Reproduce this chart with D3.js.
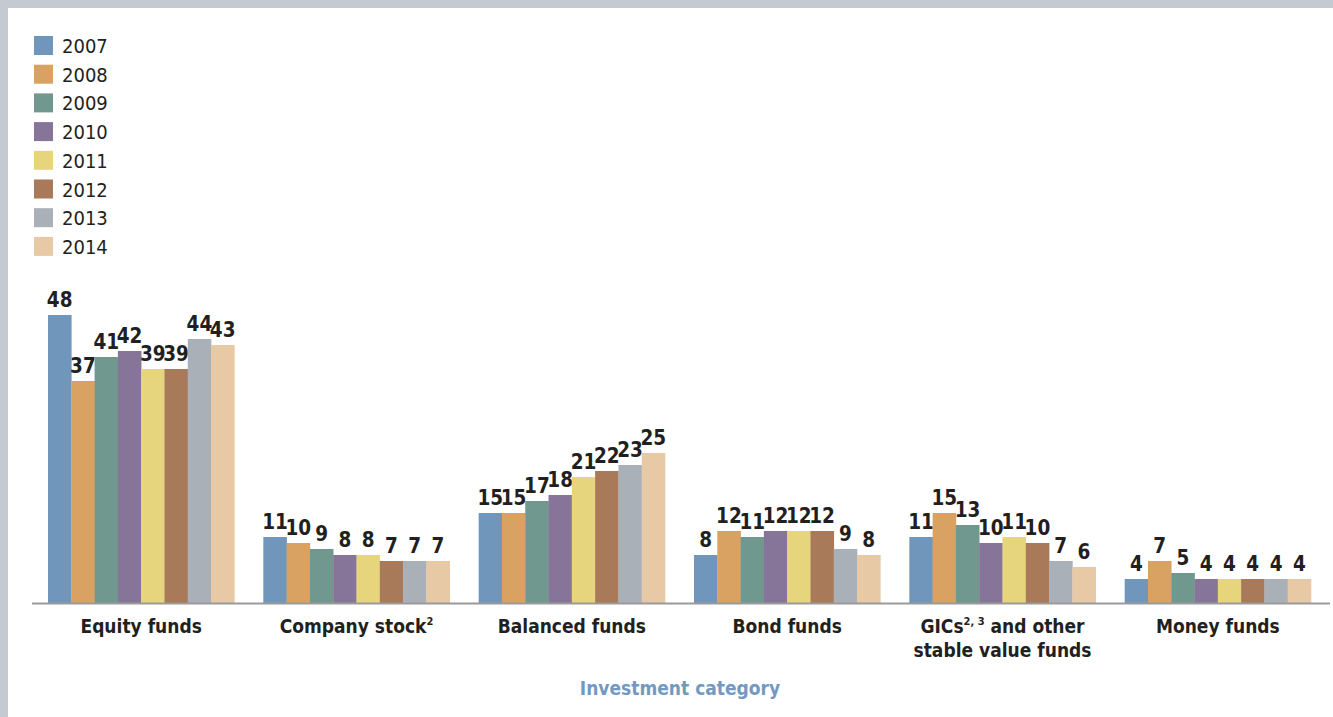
<!DOCTYPE html>
<html><head><meta charset="utf-8">
<script src="https://cdn.jsdelivr.net/npm/d3@7"></script>
<style>
html,body{margin:0;padding:0;background:#fff;}
svg{display:block;}
</style></head>
<body>
<script>
const categories = ["Equity funds","Company stock","Balanced funds","Bond funds","GICs and other stable value funds","Money funds"];
const years = ["2007","2008","2009","2010","2011","2012","2013","2014"];
const values = {
  "2007":[48,11,15,8,11,4],
  "2008":[37,10,15,12,15,7],
  "2009":[41,9,17,11,13,5],
  "2010":[42,8,18,12,10,4],
  "2011":[39,8,21,12,11,4],
  "2012":[39,7,22,12,10,4],
  "2013":[44,7,23,9,7,4],
  "2014":[43,7,25,8,6,4]
};
const colors = ["#7097bb","#d9a263","#71988e","#877599","#e6d57d","#a97a5a","#aab0b8","#e8c9a6"];
const axisTitle = "Investment category";

const W=1333,H=717;
const svg=d3.select("body").append("svg").attr("width",W).attr("height",H);
svg.append("rect").attr("width",W).attr("height",H).attr("fill","#c5cad2");
svg.append("rect").attr("x",8).attr("y",8).attr("width",W-8).attr("height",H-8).attr("fill","#fff");

const FONT="'DejaVu Sans Condensed','DejaVu Sans',sans-serif";
const baseY=603;
const y=d3.scaleLinear().domain([0,48]).range([baseY,315]);
const x0=d3.scaleBand().domain(categories).range([33.5,1325.5]).paddingInner(29/215.3).paddingOuter(29/215.3/2);
const x1=d3.scaleBand().domain(years).range([0,x0.bandwidth()]);
const color=d3.scaleOrdinal().domain(years).range(colors);

const g=svg.append("g");
categories.forEach((c,ci)=>{
  const gg=g.append("g").attr("transform",`translate(${x0(c)},0)`);
  years.forEach(yr=>{
    const v=values[yr][ci];
    gg.append("rect").attr("x",x1(yr)).attr("width",x1.bandwidth()+0.3)
      .attr("y",y(v)).attr("height",baseY-y(v)).attr("fill",color(yr));
    gg.append("text").attr("x",x1(yr)+x1.bandwidth()/2).attr("y",y(v)-8)
      .attr("text-anchor","middle").attr("font-family",FONT).attr("font-weight","bold")
      .attr("font-size",20.5).attr("fill","#231f20").text(v);
  });
});

// axis line
svg.append("line").attr("x1",32).attr("x2",1330).attr("y1",baseY+0.5).attr("y2",baseY+0.5)
  .attr("stroke","#9a9a9a").attr("stroke-width",2);

// category labels
const lab=svg.append("g").attr("font-family",FONT).attr("font-weight","bold").attr("font-size",19).attr("fill","#231f20").attr("text-anchor","middle");
function cx(c){return x0(c)+x0.bandwidth()/2;}
lab.append("text").attr("x",cx(categories[0])).attr("y",633).text("Equity funds");
let t=lab.append("text").attr("x",cx(categories[1])).attr("y",633);
t.append("tspan").text("Company stock");
t.append("tspan").attr("font-size",11).attr("dy",-8).text("2");
lab.append("text").attr("x",cx(categories[2])).attr("y",633).text("Balanced funds");
lab.append("text").attr("x",cx(categories[3])).attr("y",633).text("Bond funds");
t=lab.append("text").attr("x",cx(categories[4])).attr("y",633);
t.append("tspan").text("GICs");
t.append("tspan").attr("font-size",11).attr("dy",-8).text("2, 3");
t.append("tspan").attr("dy",8).text(" and other");
lab.append("text").attr("x",cx(categories[4])).attr("y",657).text("stable value funds");
lab.append("text").attr("x",cx(categories[5])).attr("y",633).text("Money funds");

// axis title
svg.append("text").attr("x",680).attr("y",695).attr("text-anchor","middle").attr("font-family",FONT)
  .attr("font-weight","bold").attr("font-size",19).attr("fill","#7399c0").text(axisTitle);

// legend
const leg=svg.append("g");
years.forEach((yr,i)=>{
  leg.append("rect").attr("x",34).attr("y",36+i*28.7).attr("width",19).attr("height",19).attr("fill",color(yr));
  leg.append("text").attr("x",62).attr("y",53+i*28.7).attr("font-family",FONT).attr("font-size",20)
    .attr("fill","#231f20").text(yr);
});
</script>
</body></html>
